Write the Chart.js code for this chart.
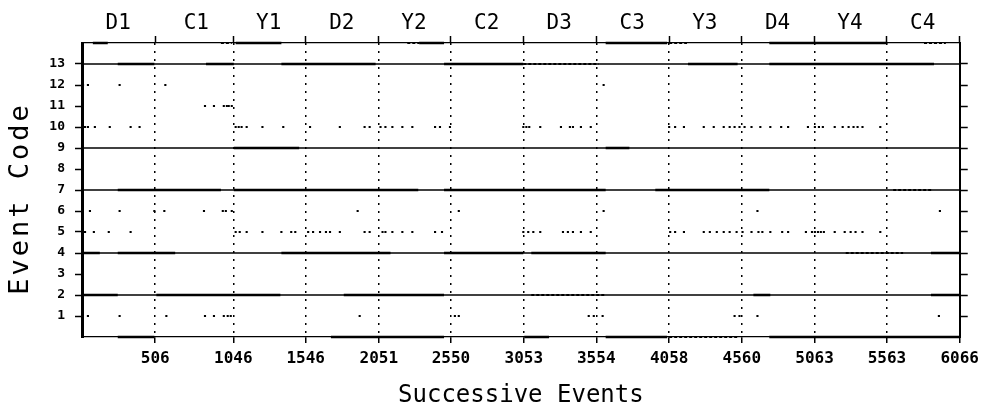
<!DOCTYPE html>
<html>
<head>
<meta charset="utf-8">
<title>Event Code by Successive Events</title>
<script src="https://cdn.jsdelivr.net/npm/chart.js@4.4.1/dist/chart.umd.min.js"></script>
<style>
  html, body { margin: 0; padding: 0; background: #fff; }
  canvas { display: block; }
</style>
</head>
<body>
<canvas id="chart" width="985" height="413"></canvas>
<script>
// Session boundaries (cumulative event index) and session names
const sessionEnds = [506, 1046, 1546, 2051, 2550, 3053, 3554, 4058, 4560, 5063, 5563, 6066];
const sessionLabels = ['D1', 'C1', 'Y1', 'D2', 'Y2', 'C2', 'D3', 'C3', 'Y3', 'D4', 'Y4', 'C4'];
const codeTicks = [1, 2, 3, 4, 5, 6, 7, 8, 9, 10, 11, 12, 13];
const axisTitles = { x: 'Successive Events', y: 'Event Code' };

// Codes that occur throughout the whole record
const steadyCodes = [13, 9, 7, 4, 2];

// Dense runs of a code: [first event, last event]
const code14Runs = [[75, 178], [1062, 1378], [2330, 2502], [3619, 4044], [4750, 5565]];
const code14Sparse = [[960, 1035], [2248, 2330], [4058, 4181], [5819, 5970]];
const code13Runs = [[247, 500], [857, 1049], [1378, 2029], [2502, 3050], [4188, 4531], [4750, 5888]];
const code13Sparse = [[3050, 3571]];
const code9Runs = [[1049, 1501], [3619, 3783]];
const code7Runs = [[247, 960], [1049, 2324], [2502, 3619], [3962, 4750]];
const code7Sparse = [[5606, 5874]];
const code4Runs = [[0, 123], [247, 644], [1378, 2132], [2502, 3050], [3105, 3619], [5867, 6066]];
const code4Sparse = [[5278, 5675]];
const code2Runs = [[0, 247], [514, 1371], [1809, 2502], [4640, 4757], [5867, 6066]];
const code2Sparse = [[3105, 3619]];
const code0Runs = [[247, 500], [1720, 2502], [3057, 3228], [3619, 4044], [4750, 6066]];
const code0Sparse = [[4058, 4531]];

// Isolated events: event index for each occurrence
const code12Events = [7, 41, 260, 576, 3605];
const code11Events = [850, 912, 980, 1001, 1014, 1035];
const code10Events = [21, 41, 89, 192, 336, 398, 1062, 1083, 1103, 1138, 1247, 1391, 1576,
  1782, 1953, 1988, 2063, 2097, 2145, 2214, 2283, 2440, 2474, 2543, 3050, 3071, 3091, 3167,
  3310, 3372, 3393, 3448, 3516, 4058, 4099, 4160, 4297, 4366, 4435, 4476, 4510, 4544, 4579,
  4627, 4688, 4757, 4832, 4880, 5017, 5065, 5093, 5120, 5202, 5257, 5298, 5332, 5360, 5394, 5517];
const code6Events = [55, 260, 500, 569, 843, 973, 994, 1035, 1905, 2604, 3605, 4668, 5929];
const code5Events = [21, 82, 185, 336, 1062, 1090, 1138, 1247, 1378, 1446, 1474, 1563, 1597,
  1645, 1686, 1714, 1782, 1953, 1988, 2077, 2097, 2145, 2214, 2283, 2440, 2488, 3050, 3084,
  3119, 3167, 3324, 3358, 3393, 3448, 3516, 4065, 4099, 4160, 4297, 4339, 4387, 4435, 4476,
  4524, 4565, 4627, 4675, 4702, 4757, 4839, 4880, 5003, 5045, 5065, 5086, 5106, 5127, 5202,
  5271, 5312, 5346, 5394, 5517];
const code1Events = [41, 260, 583, 850, 912, 980, 1007, 1028, 1919, 2577, 2604, 3502, 3537,
  3598, 4510, 4544, 4668, 5922];

const firstEvent = 0;
const lastEvent = sessionEnds[sessionEnds.length - 1];
const MONO = '"DejaVu Sans Mono", "Liberation Mono", monospace';

// Turn [start, end] runs into one broken polyline at height `code`
function runPoints(code, runs) {
  const pts = [];
  runs.forEach(([a, b]) => {
    pts.push({ x: a, y: code }, { x: b, y: code }, { x: b, y: null });
  });
  return pts;
}

function runSet(code, runs, width, dash) {
  return {
    type: 'line',
    data: runPoints(code, runs),
    borderColor: '#000',
    borderWidth: width,
    borderDash: dash || [],
    pointRadius: 0,
    pointHoverRadius: 0,
    spanGaps: false,
    fill: false,
    tension: 0,
    clip: false,
    xAxisID: 'x',
    yAxisID: 'y'
  };
}

function eventSet(code, events) {
  return {
    type: 'scatter',
    data: events.map(v => ({ x: v, y: code })),
    backgroundColor: '#000',
    borderWidth: 0,
    pointStyle: 'rect',
    pointRadius: 1.5,
    pointHoverRadius: 1.5,
    xAxisID: 'x',
    yAxisID: 'y'
  };
}

const datasets = [];
steadyCodes.forEach(c => datasets.push(runSet(c, [[firstEvent, lastEvent]], 1.4)));
[[14, code14Runs], [13, code13Runs], [9, code9Runs], [7, code7Runs],
 [4, code4Runs], [2, code2Runs], [0, code0Runs]]
  .forEach(([c, r]) => datasets.push(runSet(c, r, 2.6)));
[[14, code14Sparse], [13, code13Sparse], [7, code7Sparse], [4, code4Sparse],
 [2, code2Sparse], [0, code0Sparse]]
  .forEach(([c, r]) => datasets.push(runSet(c, r, 2, [3, 2])));
[[12, code12Events], [11, code11Events], [10, code10Events], [6, code6Events],
 [5, code5Events], [1, code1Events]]
  .forEach(([c, e]) => datasets.push(eventSet(c, e)));

const boundaryTicks = s => { s.ticks = sessionEnds.map(v => ({ value: v })); };
const codeTickList = s => { s.ticks = codeTicks.map(v => ({ value: v })); };

// Vertical axis title, letter-spaced and set slightly below the plot's middle
const codeAxisTitle = {
  id: 'codeAxisTitle',
  afterDraw(chart) {
    const { ctx, chartArea } = chart;
    const cy = (chartArea.top + chartArea.bottom) / 2 + 10;
    ctx.save();
    ctx.translate(21, cy);
    ctx.rotate(-Math.PI / 2);
    ctx.font = '27px ' + MONO;
    if ('letterSpacing' in ctx) ctx.letterSpacing = '3px';
    ctx.fillStyle = '#000';
    ctx.textAlign = 'center';
    ctx.textBaseline = 'middle';
    ctx.fillText(axisTitles.y, 1.5, 0);
    ctx.restore();
  }
};

new Chart(document.getElementById('chart'), {
  type: 'scatter',
  data: { datasets },
  plugins: [codeAxisTitle],
  options: {
    responsive: false,
    animation: false,
    events: [],
    layout: { padding: 0 },
    plugins: { legend: { display: false }, tooltip: { enabled: false } },
    scales: {
      x: {
        type: 'linear', position: 'bottom', min: firstEvent, max: lastEvent,
        afterBuildTicks: boundaryTicks,
        afterFit: s => { s.height = 76; },
        ticks: {
          autoSkip: false, maxRotation: 0, padding: 6, color: '#000',
          font: { family: MONO, size: 16, weight: 'bold' },
          callback: v => String(v)
        },
        grid: { color: '#000', lineWidth: 1.5, drawOnChartArea: true, drawTicks: true, tickLength: 6, tickWidth: 1.5 },
        border: { display: true, color: '#000', width: 1.2, dash: [2, 6] },
        title: {
          display: true, text: axisTitles.x, color: '#000',
          font: { family: MONO, size: 24 }, padding: { top: 0, bottom: 3 }
        }
      },
      xTop: {
        type: 'linear', position: 'top', min: firstEvent, max: lastEvent,
        afterBuildTicks: boundaryTicks,
        afterFit: s => { s.height = 43; },
        ticks: {
          autoSkip: false, maxRotation: 0, padding: 0, labelOffset: -37, color: '#000',
          font: { family: MONO, size: 21 },
          callback: (v, i) => sessionLabels[i]
        },
        grid: { color: '#000', drawOnChartArea: false, drawTicks: true, tickLength: 7, tickWidth: 1.5 },
        border: { display: true, color: '#000', width: 1.2 }
      },
      y: {
        type: 'linear', position: 'left', min: 0, max: 14,
        afterBuildTicks: codeTickList,
        afterFit: s => { s.width = 82; },
        ticks: {
          padding: 10, color: '#000',
          font: { family: MONO, size: 13, weight: 'bold' },
          callback: v => String(v)
        },
        grid: { color: '#000', drawOnChartArea: false, drawTicks: true, tickLength: 7, tickWidth: 1.5 },
        border: { display: true, color: '#000', width: 3 },
        title: { display: false }
      },
      yR: {
        type: 'linear', position: 'right', min: 0, max: 14,
        afterBuildTicks: codeTickList,
        afterFit: s => { s.width = 18; },
        ticks: { display: false },
        grid: { color: '#000', drawOnChartArea: false, drawTicks: true, tickLength: 8, tickWidth: 1.5 },
        border: { display: true, color: '#000', width: 2 }
      }
    }
  }
});
</script>
</body>
</html>
